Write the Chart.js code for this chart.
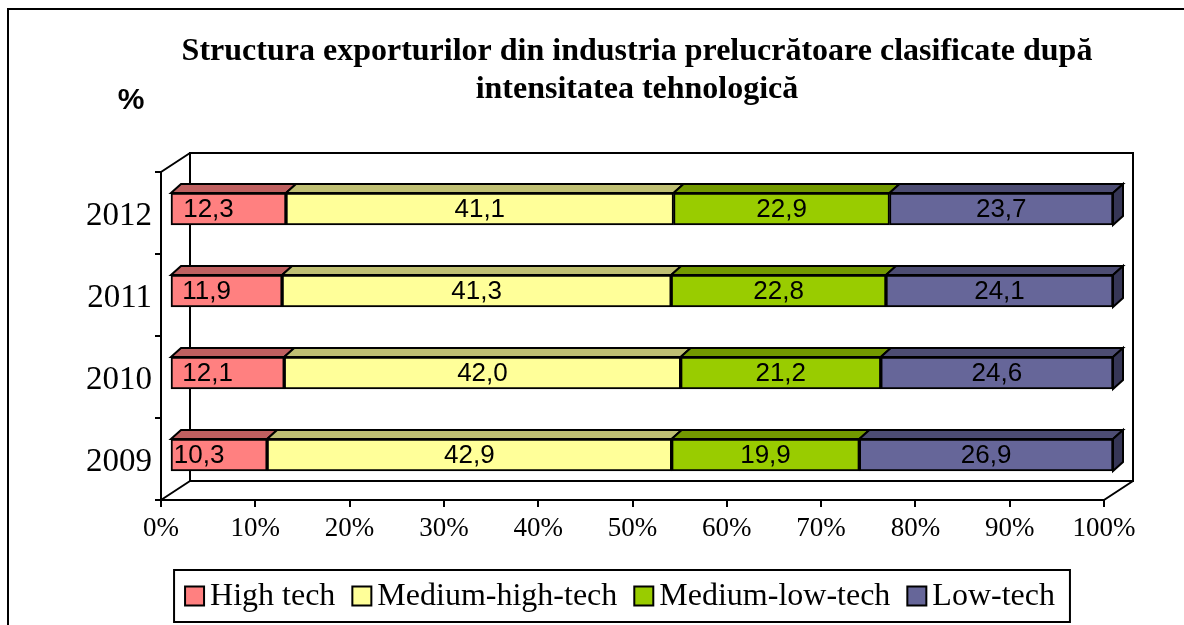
<!DOCTYPE html>
<html>
<head>
<meta charset="utf-8">
<script src="https://cdn.jsdelivr.net/npm/chart.js@4"></script>
<style>
  html, body { margin: 0; padding: 0; background: #fff; }
  #wrap { width: 1184px; height: 625px; position: relative; }
</style>
</head>
<body>
<div id="wrap"><canvas id="exportChart"></canvas></div>
<script>
// date (procente)
const years = ['2009', '2010', '2011', '2012'];
const highTech = [10.3, 12.1, 11.9, 12.3];
const mediumHighTech = [42.9, 42.0, 41.3, 41.1];
const mediumLowTech = [19.9, 21.2, 22.8, 22.9];
const lowTech = [26.9, 24.6, 24.1, 23.7];
const seriesNames = ['High tech', 'Medium-high-tech', 'Medium-low-tech', 'Low-tech'];
const xTicks = [0, 10, 20, 30, 40, 50, 60, 70, 80, 90, 100];

const titleLines = ['Structura exporturilor din industria prelucrătoare clasificate după', 'intensitatea tehnologică'];

const faceColors = ['#FF8080', '#FFFF99', '#99CC00', '#666699'];
const topColors = ['#BF6060', '#BFBF73', '#739900', '#4D4D73'];
const sideColor = '#363656';

const rawSeries = [highTech, mediumHighTech, mediumLowTech, lowTech];

// 100% stacked, ca in Excel
const totals = years.map((_, i) => rawSeries.reduce((s, arr) => s + arr[i], 0));
const pctSeries = rawSeries.map(arr => arr.map((v, i) => v / totals[i] * 100));

const WALL = { dx: 29, dy: 19 };   // adancimea peretelui din spate
const BAR = { dx: 10, dy: 9 };     // adancimea barelor
const BAR_SHIFT = { x: 9, y: -4 }; // pozitia fetei din fata a barelor

const serif = '"Times New Roman", "Liberation Serif", serif';
const sans = 'Arial, "Liberation Sans", sans-serif';

function fmt(v) {
    return v.toFixed(1).replace('.', ',');
}

const excel3d = {
    id: 'excel3d',
    beforeDraw(chart) {
        const { ctx, chartArea: a } = chart;
        ctx.save();
        ctx.fillStyle = '#fff';
        ctx.fillRect(0, 0, chart.width, chart.height);
        // chenarul exterior
        ctx.strokeStyle = '#000';
        ctx.lineWidth = 2;
        ctx.strokeRect(8, 9, chart.width, chart.height);
        // perete spate
        ctx.strokeRect(a.left + WALL.dx, a.top - WALL.dy, a.right - a.left, a.bottom - a.top);
        // muchii laterale
        ctx.beginPath();
        ctx.moveTo(a.left, a.top); ctx.lineTo(a.left + WALL.dx, a.top - WALL.dy);
        ctx.moveTo(a.left, a.bottom); ctx.lineTo(a.left + WALL.dx, a.bottom - WALL.dy);
        ctx.moveTo(a.right, a.bottom); ctx.lineTo(a.right + WALL.dx, a.bottom - WALL.dy);
        ctx.stroke();
        ctx.restore();
    },
    beforeDatasetsDraw(chart) {
        chart.ctx.save();
        chart.ctx.translate(BAR_SHIFT.x, BAR_SHIFT.y);
    },
    afterDatasetsDraw(chart) {
        const ctx = chart.ctx;
        ctx.lineWidth = 2;
        ctx.strokeStyle = '#000';
        ctx.lineJoin = 'miter';
        const last = chart.data.datasets.length - 1;
        chart.data.datasets.forEach((ds, di) => {
            chart.getDatasetMeta(di).data.forEach(bar => {
                const { x, y, base, height } = bar.getProps(['x', 'y', 'base', 'height'], true);
                const top = y - height / 2, bot = y + height / 2;
                ctx.beginPath();
                ctx.moveTo(base, top);
                ctx.lineTo(base + BAR.dx, top - BAR.dy);
                ctx.lineTo(x + BAR.dx, top - BAR.dy);
                ctx.lineTo(x, top);
                ctx.closePath();
                ctx.fillStyle = topColors[di];
                ctx.fill();
                ctx.stroke();
                if (di === last) {
                    ctx.beginPath();
                    ctx.moveTo(x, top);
                    ctx.lineTo(x + BAR.dx, top - BAR.dy);
                    ctx.lineTo(x + BAR.dx, bot - BAR.dy);
                    ctx.lineTo(x, bot);
                    ctx.closePath();
                    ctx.fillStyle = sideColor;
                    ctx.fill();
                    ctx.stroke();
                }
            });
        });
        // etichete valori
        ctx.fillStyle = '#000';
        ctx.font = '26px ' + sans;
        ctx.textAlign = 'center';
        ctx.textBaseline = 'middle';
        chart.data.datasets.forEach((ds, di) => {
            chart.getDatasetMeta(di).data.forEach((bar, i) => {
                const { x, y, base } = bar.getProps(['x', 'y', 'base'], true);
                let cx = (x + base) / 2;
                if (di === 0) cx -= 20;
                ctx.fillText(fmt(rawSeries[di][i]), cx, y + 1);
            });
        });
        ctx.restore();
    },
    afterDraw(chart) {
        const ctx = chart.ctx;
        ctx.save();
        ctx.fillStyle = '#000';
        ctx.textAlign = 'center';
        ctx.textBaseline = 'middle';
        ctx.font = 'bold 32px ' + serif;
        ctx.fillText(titleLines[0], 637, 52);
        ctx.fillText(titleLines[1], 637, 90);
        ctx.font = 'bold 30px ' + sans;
        ctx.fillText('%', 131, 101);

        // legenda cu chenar
        ctx.font = '32px ' + serif;
        const sw = 19, gapBox = 6, gapItem = 17, pad = 11;
        const widths = chart.data.datasets.map(ds => ctx.measureText(ds.label).width);
        const content = widths.reduce((s, w) => s + sw + gapBox + w, 0) + gapItem * (widths.length - 1);
        const boxW = content + pad * 2 + 4;
        const boxL = 622 - boxW / 2, boxT = 570, boxH = 52;
        ctx.lineWidth = 2;
        ctx.strokeStyle = '#000';
        ctx.strokeRect(boxL, boxT, boxW, boxH);
        let lx = boxL + pad;
        const cy = boxT + boxH / 2;
        ctx.textAlign = 'left';
        chart.data.datasets.forEach((ds, di) => {
            ctx.fillStyle = ds.backgroundColor;
            ctx.fillRect(lx, cy - sw / 2, sw, sw);
            ctx.strokeRect(lx, cy - sw / 2, sw, sw);
            lx += sw + gapBox;
            ctx.fillStyle = '#000';
            ctx.fillText(ds.label, lx, cy + 1);
            lx += widths[di] + gapItem;
        });
        ctx.restore();
    }
};

const ctx = document.getElementById('exportChart').getContext('2d');

new Chart(ctx, {
    type: 'bar',
    data: {
        labels: years,
        datasets: pctSeries.map((arr, di) => ({
            label: seriesNames[di],
            data: arr,
            backgroundColor: faceColors[di],
            borderColor: '#000',
            borderWidth: 2,
            borderSkipped: false,
            barThickness: 32,
        }))
    },
    options: {
        indexAxis: 'y',
        responsive: true,
        maintainAspectRatio: false,
        animation: false,
        layout: { padding: { left: 0, top: 172, right: 80, bottom: 0 } },
        scales: {
            x: {
                stacked: true,
                min: 0,
                max: 100,
                afterFit: scale => { scale.height = 125; },
                afterBuildTicks: scale => { scale.ticks = xTicks.map(v => ({ value: v })); },
                ticks: {
                    color: '#000',
                    font: { family: serif, size: 27 },
                    padding: 6,
                    callback: v => v + '%',
                },
                grid: { drawOnChartArea: false, color: '#000', lineWidth: 2, tickLength: 7 },
                border: { display: true, color: '#000', width: 2 },
            },
            y: {
                stacked: true,
                reverse: true,
                afterFit: scale => { scale.width = 161; },
                ticks: {
                    color: '#000',
                    font: { family: serif, size: 33 },
                    padding: 3,
                    labelOffset: 3,
                },
                grid: { drawOnChartArea: false, offset: true, color: '#000', lineWidth: 2, tickLength: 6 },
                border: { display: true, color: '#000', width: 2 },
            }
        },
        plugins: {
            legend: { display: false },
            title: { display: false },
            tooltip: { enabled: false },
        }
    },
    plugins: [excel3d]
});
</script>
</body>
</html>
